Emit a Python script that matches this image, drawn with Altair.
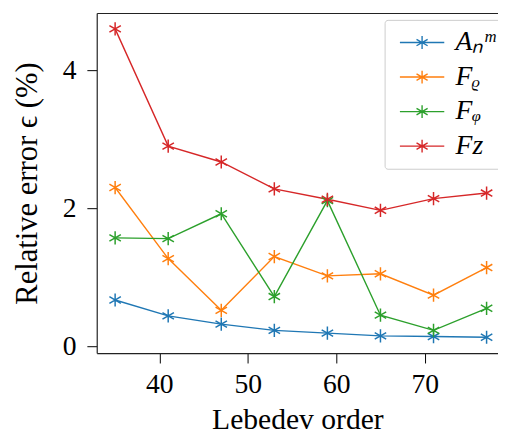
import altair as alt
import pandas as pd

orders = [35, 41, 47, 53, 59, 65, 71, 77]
series_names = ["Aₙᵐ", "Fᵨ", "Fᵩ", "Fz"]
a_nm = [0.67, 0.44, 0.32, 0.23, 0.19, 0.15, 0.14, 0.13]
f_rho = [2.30, 1.27, 0.52, 1.30, 1.02, 1.05, 0.74, 1.14]
f_phi = [1.57, 1.56, 1.92, 0.72, 2.11, 0.45, 0.23, 0.55]
f_z = [4.60, 2.90, 2.67, 2.28, 2.13, 1.97, 2.14, 2.22]
colors = ["#1f77b4", "#ff7f0e", "#2ca02c", "#d62728"]

rows = []
for name, vals in zip(series_names, [a_nm, f_rho, f_phi, f_z]):
    for o, v in zip(orders, vals):
        rows.append({"order": o, "value": v, "series": name})
df = pd.DataFrame(rows)

star = "M0,-1L0,1M-0.866,-0.5L0.866,0.5M-0.866,0.5L0.866,-0.5"
legend_sym = "M-3,0L3,0M0,-0.87L0,0.87M-0.75,-0.435L0.75,0.435M-0.75,0.435L0.75,-0.435"

FONT = "Liberation Serif"
xscale = alt.Scale(domain=[32.92, 78.29], nice=False, zero=False)
yscale = alt.Scale(domain=[-0.1, 4.83], nice=False, zero=False)

lines = alt.Chart(df).mark_line(
    strokeWidth=1.4,
    point=alt.OverlayMarkDef(shape=star, filled=False, size=180, strokeWidth=1.5),
).encode(
    x=alt.X("order:Q", scale=xscale,
            axis=alt.Axis(values=[40, 50, 60, 70], title="Lebedev order",
                          labelPadding=8, titlePadding=6, titleFontSize=30, format="d")),
    y=alt.Y("value:Q", scale=yscale,
            axis=alt.Axis(values=[0, 2, 4], title="Relative error ϵ (%)",
                          labelPadding=11, titlePadding=19, format="d")),
    color=alt.Color("series:N",
                    scale=alt.Scale(domain=series_names, range=colors),
                    legend=alt.Legend(title=None, orient="none", legendX=292, legendY=7,
                                      symbolType=legend_sym, symbolSize=225,
                                      symbolStrokeWidth=1.4, symbolOffset=15,
                                      labelOffset=20)),
    order=alt.Order("order:Q"),
)

top = alt.Chart(df).mark_point(opacity=0).encode(
    x=alt.X("order:Q", scale=xscale,
            axis=alt.Axis(orient="top", labels=False, ticks=False, title=None,
                          domain=True, grid=False)),
)

chart = alt.layer(top, lines).resolve_axis(x="independent").properties(
    width=407, height=345,
    autosize=alt.AutoSizeParams(type="none"),
    padding={"left": 90, "top": 2, "right": 0, "bottom": 80},
).configure_view(stroke=None).configure_axis(
    grid=False,
    labelFont=FONT, titleFont=FONT,
    labelFontSize=28, titleFontSize=31,
    titleFontWeight="normal",
    labelColor="black", titleColor="black",
    tickColor="black", tickSize=10, tickWidth=1,
    domainColor="#222222", domainWidth=1.2,
).configure_legend(
    labelFont=FONT, labelFontSize=28, labelFontStyle="italic", labelColor="black",
    strokeColor="#cccccc", fillColor="white", cornerRadius=3,
    padding=9, rowPadding=7,
)

chart.save("out.html", embed_options={"renderer": "svg", "actions": False})
